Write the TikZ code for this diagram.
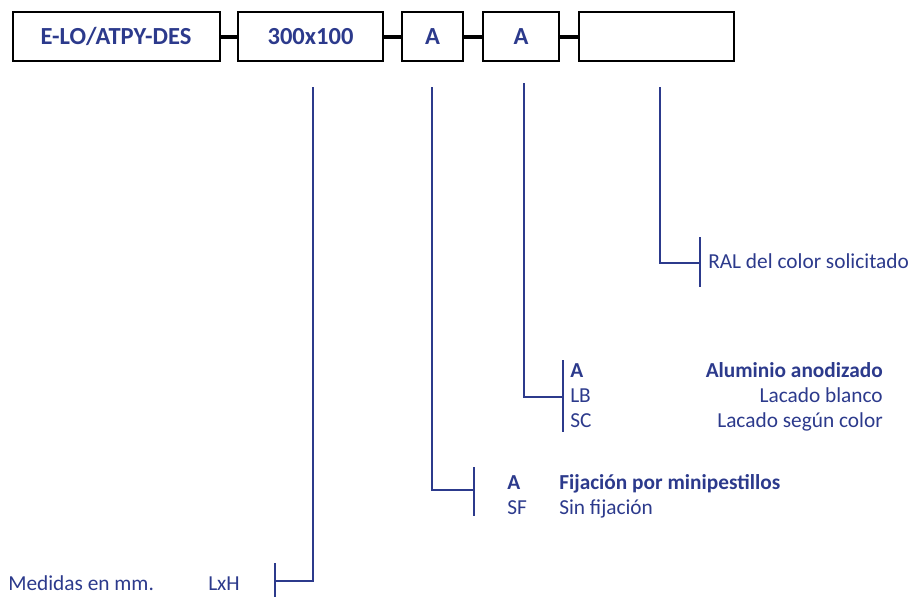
\documentclass[tikz,border=0pt]{standalone}
\usepackage{fontspec}
\setmainfont{Carlito}
\definecolor{navy}{RGB}{44,58,140}
\begin{document}
\begin{tikzpicture}[x=0.75pt,y=-0.75pt,
  box/.style={draw=black,line width=1.5pt,minimum height=36.75pt,inner sep=0pt,font=\fontsize{18.4}{21}\selectfont\bfseries,text=navy},
  link/.style={draw=black,line width=3pt},
  lead/.style={draw=navy,line width=2.1pt},
  lbl/.style={inner sep=0pt,font=\fontsize{16}{19}\selectfont,text=navy},
  blbl/.style={lbl,font=\fontsize{16}{19}\selectfont\bfseries}]
\useasboundingbox (0,0) rectangle (912,597);
% boxes
\node[box,minimum width=155.25pt] (b1) at (116,36.5) {E-LO/ATPY-DES};
\node[box,minimum width=108.75pt] (b2) at (310.5,36.5) {300x100};
\node[box,minimum width=45.75pt] (b3) at (432.5,36.5) {A};
\node[box,minimum width=57pt] (b4) at (521,36.5) {A};
\node[box,minimum width=116.25pt] (b5) at (656.5,36.5) {};
\draw[link] (b1.east) -- (b2.west);
\draw[link] (b2.east) -- (b3.west);
\draw[link] (b3.east) -- (b4.west);
\draw[link] (b4.east) -- (b5.west);
% leader coordinates
\coordinate (t2) at (313,87);
\coordinate (c2) at (313,581);
\coordinate (k2) at (275,581);
\coordinate (k2a) at (275,563);
\coordinate (k2b) at (275,597);
\coordinate (t3) at (432,87);
\coordinate (c3) at (432,490);
\coordinate (k3) at (474,490);
\coordinate (k3a) at (474,467);
\coordinate (k3b) at (474,516);
\coordinate (t4) at (524,83);
\coordinate (c4) at (524,397);
\coordinate (k4) at (563,397);
\coordinate (k4a) at (563,360);
\coordinate (k4b) at (563,432);
\coordinate (t5) at (660,87);
\coordinate (c5) at (660,263);
\coordinate (k5) at (700,263);
\coordinate (k5a) at (700,237);
\coordinate (k5b) at (700,287);
\draw[lead] (t2) -- (c2) -- (k2);
\draw[lead] (k2a) -- (k2b);
\draw[lead] (t3) -- (c3) -- (k3);
\draw[lead] (k3a) -- (k3b);
\draw[lead] (t4) -- (c4) -- (k4);
\draw[lead] (k4a) -- (k4b);
\draw[lead] (t5) -- (c5) -- (k5);
\draw[lead] (k5a) -- (k5b);
% labels
\node[lbl,anchor=base west] (ral) at (708,268) {RAL del color solicitado};
\node[blbl,anchor=base west] (a4) at (570,377) {A};
\node[lbl,anchor=base west] (lb) at (570,402) {LB};
\node[lbl,anchor=base west] (sc) at (570,427) {SC};
\node[blbl,anchor=base east] (alu) at (883,377) {Aluminio anodizado};
\node[lbl,anchor=base east] (lbt) at (883,402) {Lacado blanco};
\node[lbl,anchor=base east] (sct) at (883,427) {Lacado según color};
\node[blbl,anchor=base west] (a3) at (507,489) {A};
\node[lbl,anchor=base west] (sf) at (507,514) {SF};
\node[blbl,anchor=base west] (fij) at (559,489) {Fijación por minipestillos};
\node[lbl,anchor=base west] (sft) at (559,514) {Sin fijación};
\node[lbl,anchor=base west] (med) at (8,590) {Medidas en mm.};
\node[lbl,anchor=base west] (lxh) at (208,590) {LxH};
\end{tikzpicture}
\end{document}
